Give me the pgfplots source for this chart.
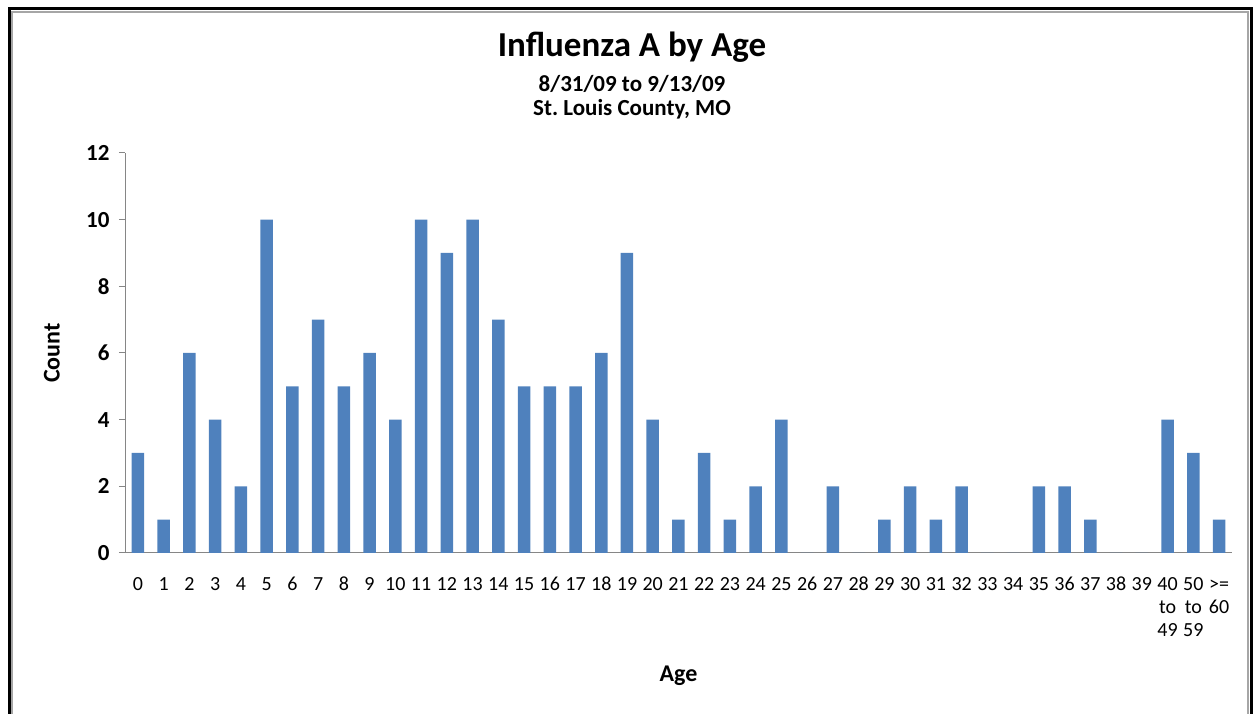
\documentclass[border=0pt]{standalone}
\usepackage{pgfplots}
\pgfplotsset{compat=1.18}
\usepackage{fontspec}
\setmainfont{Carlito}
\frenchspacing
\definecolor{barblue}{HTML}{4F81BD}
\definecolor{axgray}{HTML}{868686}
\def\s{\strut}
\begin{document}
\begin{tikzpicture}[x=1pt,y=1pt]
\useasboundingbox (0,0) rectangle (1255,714);
\clip (0,0) rectangle (1255,714);
\draw[black,line width=3pt] (9,-20) -- (9,705) -- (1251,705) -- (1251,-20);
\draw[gray!70,line width=1.2pt] (12,-20) -- (12,702) -- (1248,702) -- (1248,-20);
\node[anchor=base,font=\fontsize{35}{42}\selectfont\bfseries] at (632,657) {Influenza A by Age};
\node[anchor=base,font=\fontsize{23}{28}\selectfont\bfseries] at (632,622) {8/31/09 to 9/13/09};
\node[anchor=base,font=\fontsize{23}{28}\selectfont\bfseries] at (632,598) {St. Louis County, MO};
\begin{axis}[
  at={(125pt,161pt)}, anchor=south west,
  scale only axis, width=1107pt, height=400pt,
  xmin=-0.5, xmax=42.5, ymin=0, ymax=12,
  axis lines*=left,
  axis line style={axgray, line width=1pt},
  every tick/.style={axgray, line width=1pt},
  tick align=outside,
  ytick={0,2,...,12},
  major tick length=6pt,
  xtick={0,...,42},
  x tick style={draw=none},
  minor xtick={-0.5,0.5,...,42.5},
  minor tick length=6pt,
  minor x tick style={axgray, line width=1pt},
  xticklabels={\s0,\s1,\s2,\s3,\s4,\s5,\s6,\s7,\s8,\s9,\s10,\s11,\s12,\s13,\s14,\s15,\s16,\s17,\s18,\s19,\s20,\s21,\s22,\s23,\s24,\s25,\s26,\s27,\s28,\s29,\s30,\s31,\s32,\s33,\s34,\s35,\s36,\s37,\s38,\s39,{\s40\\to\\49},{\s50\\to\\59},{\s>=\\60}},
  xticklabel style={align=center, font=\fontsize{20}{23}\selectfont, yshift=-12pt},
  yticklabel style={font=\fontsize{23}{28}\selectfont\bfseries, xshift=-6pt},
  /pgf/number format/assume math mode=true,
  xlabel={Age}, ylabel={Count},
  label style={font=\fontsize{24}{29}\selectfont\bfseries},
  xlabel style={at={(axis description cs:0.5,-0.3075)}, anchor=center},
  ylabel style={at={(axis description cs:-0.066,0.5)}, anchor=center},
  ybar, bar width=12.5pt,
]
\addplot[fill=barblue, draw=none] coordinates {
(0,3) (1,1) (2,6) (3,4) (4,2) (5,10) (6,5) (7,7) (8,5) (9,6)
(10,4) (11,10) (12,9) (13,10) (14,7) (15,5) (16,5) (17,5) (18,6) (19,9)
(20,4) (21,1) (22,3) (23,1) (24,2) (25,4) (26,0) (27,2) (28,0) (29,1)
(30,2) (31,1) (32,2) (33,0) (34,0) (35,2) (36,2) (37,1) (38,0) (39,0)
(40,4) (41,3) (42,1)};
\end{axis}
\end{tikzpicture}
\end{document}
